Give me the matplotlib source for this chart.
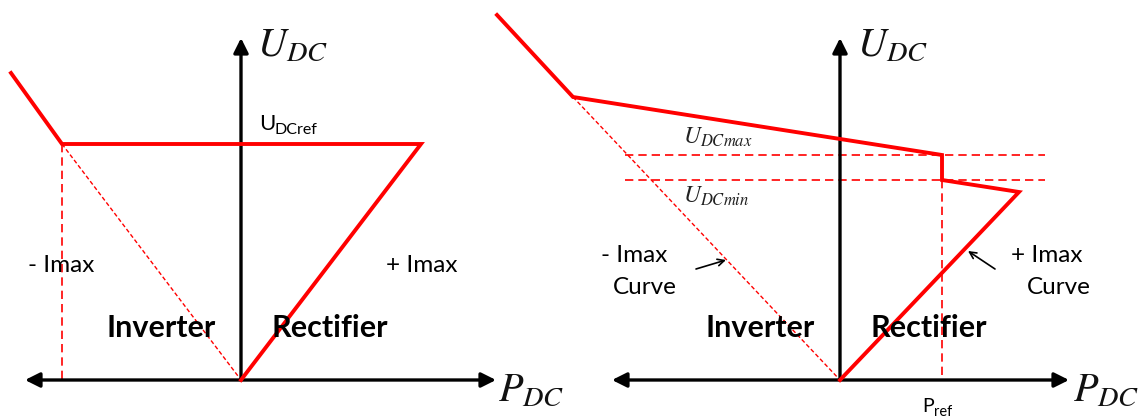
import matplotlib
matplotlib.use('Agg')
import matplotlib.pyplot as plt
from matplotlib.patches import FancyArrowPatch

plt.rcParams['mathtext.fontset'] = 'stix'

W, H = 1142, 418
RED = '#ff0000'
SANS = 'Lato'

# ---------------- data (diagram units, relative to each panel's origin; U upward) ----------
left_origin = (241, 38)
right_origin = (840, 38)

left_curve_p = [-230, -179, 180, 0]
left_curve_u = [307, 236, 236, 0]
left_diag_p = [-179, 0]
left_diag_u = [236, 0]
left_vdash_p = [-179, -179]
left_vdash_u = [236, 0]
left_xaxis = (-216, 255)
left_yaxis_top = 342

right_curve_p = [-343, -267, 102, 102, 179, 0]
right_curve_u = [365, 283, 225, 200, 188, 0]
right_diag_p = [-267, 0]
right_diag_u = [283, 0]
right_hdash_u = [225, 200]
right_hdash_p = (-215, 205)
right_vdash_p = [102, 102]
right_vdash_u = [200, 0]
right_xaxis = (-228, 229)
right_yaxis_top = 342

fig = plt.figure(figsize=(W / 100, H / 100), dpi=100)
ax = fig.add_axes([0, 0, 1, 1])
ax.set_xlim(0, W)
ax.set_ylim(0, H)
ax.axis('off')


def tr(origin, ps, us):
    return [origin[0] + p for p in ps], [origin[1] + u for u in us]


def img(x, y):
    # image pixel coords (y down) -> axes coords
    return x, H - y


def draw_axes(origin, xr, ytop):
    ox, oy = origin
    a = FancyArrowPatch((ox + xr[0], oy), (ox + xr[1], oy), arrowstyle='<|-|>',
                        mutation_scale=22, lw=2.4, color='black', shrinkA=0, shrinkB=0,
                        zorder=3)
    ax.add_patch(a)
    b = FancyArrowPatch((ox, oy), (ox, oy + ytop), arrowstyle='-|>',
                        mutation_scale=22, lw=2.4, color='black', shrinkA=0, shrinkB=0,
                        zorder=3)
    ax.add_patch(b)


# ---------------- left panel ----------------
draw_axes(left_origin, left_xaxis, left_yaxis_top)
x, y = tr(left_origin, left_diag_p, left_diag_u)
ax.plot(x, y, color=RED, lw=1.0, dashes=(3, 1.8), zorder=2)
x, y = tr(left_origin, left_vdash_p, left_vdash_u)
ax.plot(x, y, color=RED, lw=1.2, dashes=(5, 3), zorder=2)
x, y = tr(left_origin, left_curve_p, left_curve_u)
ax.plot(x, y, color=RED, lw=2.8, solid_joinstyle='miter', zorder=4)

# ---------------- right panel ----------------
draw_axes(right_origin, right_xaxis, right_yaxis_top)
x, y = tr(right_origin, right_diag_p, right_diag_u)
ax.plot(x, y, color=RED, lw=1.0, dashes=(3, 1.8), zorder=2)
for u in right_hdash_u:
    x, y = tr(right_origin, list(right_hdash_p), [u, u])
    ax.plot(x, y, color=RED, lw=1.2, dashes=(5, 3), zorder=2)
x, y = tr(right_origin, right_vdash_p, right_vdash_u)
ax.plot(x, y, color=RED, lw=1.2, dashes=(5, 3), zorder=2)
x, y = tr(right_origin, right_curve_p, right_curve_u)
ax.plot(x, y, color=RED, lw=2.8, solid_joinstyle='miter', zorder=4)

# ---------------- texts ----------------
def txt(xp, yp, s, **kw):
    kw.setdefault('zorder', 6)
    ax.text(*img(xp, yp), s, **kw)


for xl in (257, 857):
    txt(xl, 45, r'$U_{DC}$', fontsize=29, ha='left', va='center', color='#111111')
for xl in (498, 1073):
    txt(xl, 390, r'$P_{DC}$', fontsize=29, ha='left', va='center', color='#111111')

# U_DCref
txt(259, 124, 'U', fontsize=16, family=SANS, ha='left', va='center')
txt(275, 130, 'DCref', fontsize=11.5, family=SANS, ha='left', va='center')

txt(28, 266, '- Imax', fontsize=17.5, family=SANS, ha='left', va='center')
txt(386, 266, '+ Imax', fontsize=17.5, family=SANS, ha='left', va='center')
txt(161, 328, 'Inverter', fontsize=22, family=SANS, weight='bold', ha='center', va='center')
txt(330, 328, 'Rectifier', fontsize=22, family=SANS, weight='bold', ha='center', va='center')

txt(683, 137, r'$U_{DCmax}$', fontsize=17, ha='left', va='center', color='#222222')
txt(683, 196, r'$U_{DCmin}$', fontsize=17, ha='left', va='center', color='#222222')

txt(601, 255, '- Imax', fontsize=17.5, family=SANS, ha='left', va='center')
txt(613, 287, 'Curve', fontsize=17.5, family=SANS, ha='left', va='center')
txt(1011, 255, '+ Imax', fontsize=17.5, family=SANS, ha='left', va='center')
txt(1027, 287, 'Curve', fontsize=17.5, family=SANS, ha='left', va='center')
txt(760, 328, 'Inverter', fontsize=22, family=SANS, weight='bold', ha='center', va='center')
txt(929, 328, 'Rectifier', fontsize=22, family=SANS, weight='bold', ha='center', va='center')

txt(922, 406, 'P', fontsize=14, family=SANS, ha='left', va='center')
txt(934, 412, 'ref', fontsize=10.5, family=SANS, ha='left', va='center')

# small pointer arrows
ax.annotate('', xy=img(726, 260), xytext=img(696, 269),
            arrowprops=dict(arrowstyle='->', lw=1.2, color='black', mutation_scale=12,
                            shrinkA=0, shrinkB=0))
ax.annotate('', xy=img(968, 251), xytext=img(995, 269),
            arrowprops=dict(arrowstyle='->', lw=1.2, color='black', mutation_scale=12,
                            shrinkA=0, shrinkB=0))

fig.savefig('out.png', dpi=100)
